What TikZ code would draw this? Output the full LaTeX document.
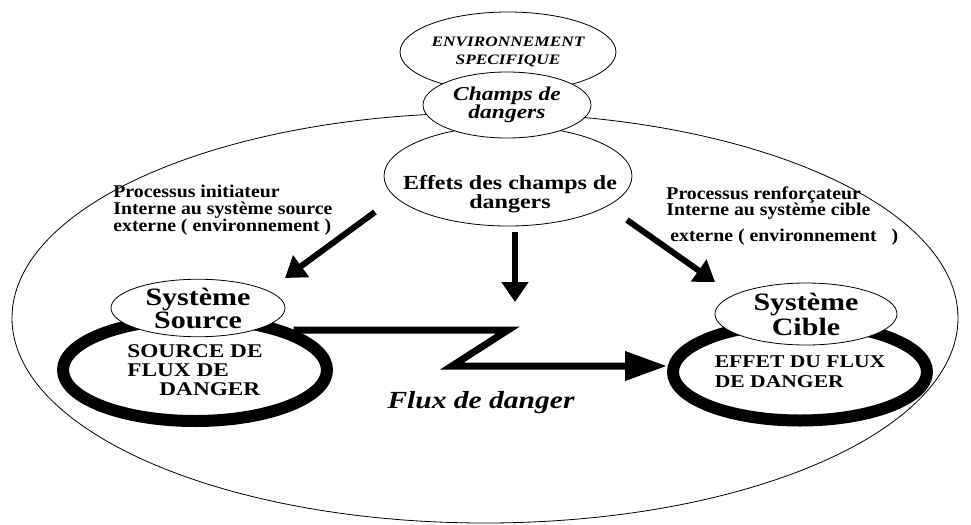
\documentclass[tikz,border=0pt]{standalone}
\usepackage{fontspec}
\setmainfont{Liberation Serif}[FakeStretch=1.2]
\newfontfamily\procfont{Liberation Serif}[FakeStretch=1.1]
\usepackage{tikz}
\usetikzlibrary{arrows.meta, shapes.geometric, positioning}

\begin{document}
\begin{tikzpicture}[
	x = 0.5pt, y = -0.5pt,
	> = {Triangle[length=10pt,width=13pt]},
	oval/.style = {ellipse, draw, fill=white, inner sep=0pt, align=center},
	ring/.style = {ellipse, draw, line width=6pt, inner sep=0pt, align=left},
	pointer/.style = {->, line width=3pt},
	flux/.style = {-{Triangle[length=21pt,width=14pt]}, line width=3.5pt},
	proc/.style = {anchor=west, inner sep=0pt, align=left, font=\procfont\fontsize{9}{8.4}\selectfont\bfseries}
	]
	\useasboundingbox (0,0) rectangle (971,525);
	\node[oval, minimum width=473pt, minimum height=205pt] (Outer) at (485,318) {};
	\node[oval, minimum width=91pt, minimum height=40pt, font=\fontsize{7.2}{9}\selectfont\bfseries\itshape] (Env) at (508,52) {ENVIRONNEMENT\\SPECIFIQUE};
	\node[oval, minimum width=124pt, minimum height=50pt] (Effets) at (508,176) {};
	\node[inner sep=0pt, align=center, font=\fontsize{10}{9.5}\selectfont\bfseries] (EffetsTxt) at (510,194) {Effets des champs de\\dangers};
	\node[oval, minimum width=84pt, minimum height=33pt, font=\fontsize{9.8}{9.2}\selectfont\bfseries\itshape] (Champs) at (507,105) {Champs de\\dangers};

	\node[ring, minimum width=132pt, minimum height=51pt, font=\fontsize{9.7}{9.5}\selectfont\bfseries] (SrcRing) at (195,370) {SOURCE DE\\FLUX DE\\\hspace{16pt}DANGER};
	\node[oval, minimum width=87pt, minimum height=25pt, font=\fontsize{12.5}{11.5}\selectfont\bfseries] (SrcTop) at (198,308) {Système\\Source};
	\node[ring, minimum width=127pt, minimum height=48.5pt, font=\fontsize{9}{10}\selectfont\bfseries] (CibRing) at (800,372) {EFFET DU FLUX\\DE DANGER};
	\node[oval, minimum width=91pt, minimum height=31pt, font=\fontsize{12.5}{12.5}\selectfont\bfseries] (CibTop) at (806,314) {Système\\Cible};

	\node[proc] (ProcSrc) at (113,210) {Processus initiateur\\Interne au système source\\externe ( environnement )};
	\node[proc] (ProcCib) at (666,216) {Processus renforçateur\\Interne au système cible\\[4.5pt]\hspace{2pt}externe ( environnement \ \ )};

	\coordinate (ArrL) at (375,212);
	\coordinate (ArrLtip) at (285,278);
	\coordinate (ArrM) at (515,232);
	\coordinate (ArrMtip) at (515,302);
	\coordinate (ArrR) at (627,220);
	\coordinate (ArrRtip) at (715,282);
	\draw[pointer] (ArrL) -- (ArrLtip);
	\draw[pointer] (ArrM) -- (ArrMtip);
	\draw[pointer] (ArrR) -- (ArrRtip);

	\coordinate (ZigA) at (508,330);
	\coordinate (ZigB) at (452,366);
	\draw[flux] (SrcRing.22 |- ZigA) -- (ZigA) -- (ZigB) -- (CibRing.west |- ZigB);
	\node[font=\fontsize{12.3}{12}\selectfont\bfseries\itshape] (FluxTxt) at (481,403) {Flux de danger};
\end{tikzpicture}
\end{document}
